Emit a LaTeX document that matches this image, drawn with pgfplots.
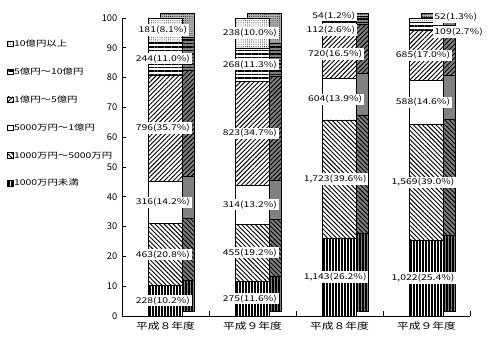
\documentclass[border=0pt]{standalone}
\usepackage{fontspec}
\setmainfont{Noto Sans CJK JP}
\newfontfamily\wide[FakeStretch=1.3]{Noto Sans CJK JP}
\usepackage{pgfplots}
\pgfplotsset{compat=1.18}
\usepackage{pgfplotstable}
\usetikzlibrary{patterns,patterns.meta}

\pgfplotstableread{
x s1 s2 s3 s4 s5 s6
0 10.2 20.8 14.2 35.7 11.0 8.1
1 11.6 19.2 13.2 34.7 11.3 10.0
2 26.2 39.6 13.9 16.5 2.6 1.2
3 25.4 39.0 14.6 17.0 2.7 1.3
}\datatable

\tikzset{
 pa/.style={pattern={Lines[angle=90,distance=2.25pt,line width=1.1pt]}},
 pb/.style={pattern={Lines[angle=-45,distance=2.4pt,line width=0.7pt]}},
 pd/.style={pattern={Lines[angle=45,distance=2.4pt,line width=0.7pt]}},
 pe/.style={pattern={Lines[angle=0,distance=2.6pt,line width=1.1pt]}},
 pf/.style={pattern={Dots[distance=1.6pt,radius=0.35pt]}},
 lbl/.style={fill=white,inner sep=1.2pt,font=\wide\fontsize{6}{7}\selectfont},
}

\pgfplotsset{
 common/.style={
  width=261pt,height=223.5pt,scale only axis,
  xmin=-0.5,xmax=3.5,ymin=0,ymax=100,
 },
}

\begin{document}
\begin{tikzpicture}
\useasboundingbox (0,0) rectangle (366pt,258.75pt);
% back copy (depth faces)
\begin{axis}[common,ybar stacked,bar width=25.5pt,hide axis,at={(100.5pt,25.5pt)},anchor=south west,clip=false]
\addplot[draw=black,line width=0.3pt,fill=gray,postaction={pa}] table[x=x,y=s1]{\datatable};
\addplot[draw=black,line width=0.3pt,fill=gray,postaction={pb}] table[x=x,y=s2]{\datatable};
\addplot[draw=black,line width=0.3pt,fill=gray] table[x=x,y=s3]{\datatable};
\addplot[draw=black,line width=0.3pt,fill=gray,postaction={pd}] table[x=x,y=s4]{\datatable};
\addplot[draw=black,line width=0.3pt,fill=gray,postaction={pe}] table[x=x,y=s5]{\datatable};
\addplot[draw=black,line width=0.3pt,fill=gray!60,postaction={pf}] table[x=x,y=s6]{\datatable};
\end{axis}
% front faces
\begin{axis}[common,ybar stacked,bar width=25.5pt,at={(91.5pt,21.75pt)},anchor=south west,clip=false,
 axis lines=left,axis line style={-,line width=0.6pt},
 xtick={0,1,2,3},
 xticklabels={平成８年度,平成９年度,平成８年度,平成９年度},
 major x tick style={draw=none},
 minor xtick={0.5,1.5,2.5,3.5},
 minor tick length=3.75pt,
 ytick={0,10,...,100},
 major tick length=3pt,
 tick align=inside,
 tick style={black,line width=0.6pt},
 /pgf/number format/assume math mode=true,
 yticklabel style={font=\fontsize{7}{8}\selectfont},
 xticklabel style={font=\wide\fontsize{6.8}{8}\selectfont,yshift=-1pt},
 reverse legend,
 legend cell align=left,
 legend style={at={(-0.33,0.93)},anchor=north west,draw=none,fill=none,
   inner sep=0pt,row sep=13.7pt,
   font=\wide\fontsize{6}{7}\selectfont,
   nodes={inner sep=0.6pt,text height=5pt,text depth=1pt}},
 legend image code/.code={\draw[#1,draw=black,line width=0.4pt] (0pt,-2pt) rectangle (4pt,2pt);},
]
\addplot[draw=black,line width=0.3pt,fill=white,postaction={pa}] table[x=x,y=s1]{\datatable};
\addplot[draw=black,line width=0.3pt,fill=white,postaction={pb}] table[x=x,y=s2]{\datatable};
\addplot[draw=black,line width=0.3pt,fill=white] table[x=x,y=s3]{\datatable};
\addplot[draw=black,line width=0.3pt,fill=white,postaction={pd}] table[x=x,y=s4]{\datatable};
\addplot[draw=black,line width=0.3pt,fill=white,postaction={pe}] table[x=x,y=s5]{\datatable};
\addplot[draw=black,line width=0.3pt,fill=white,postaction={pf}] table[x=x,y=s6]{\datatable};
\legend{1000万円未満,1000万円～5000万円,5000万円～1億円,1億円～5億円,5億円～10億円,10億円以上}
\end{axis}
% labels on top
\begin{axis}[common,hide axis,at={(91.5pt,21.75pt)},anchor=south west,clip=false]
\node[lbl] at (axis cs:-0.03,5.1) {228(10.2\%)};
\node[lbl] at (axis cs:-0.03,20.6) {463(20.8\%)};
\node[lbl] at (axis cs:-0.03,38.1) {316(14.2\%)};
\node[lbl] at (axis cs:-0.03,63.05) {796(35.7\%)};
\node[lbl] at (axis cs:-0.03,86.4) {244(11.0\%)};
\node[lbl] at (axis cs:-0.03,95.95) {181(8.1\%)};
\node[lbl] at (axis cs:0.97,5.8) {275(11.6\%)};
\node[lbl] at (axis cs:0.97,21.2) {455(19.2\%)};
\node[lbl] at (axis cs:0.97,37.4) {314(13.2\%)};
\node[lbl] at (axis cs:0.97,61.35) {823(34.7\%)};
\node[lbl] at (axis cs:0.97,84.35) {268(11.3\%)};
\node[lbl] at (axis cs:0.97,95.0) {238(10.0\%)};
\node[lbl] at (axis cs:1.95,13.1) {1,143(26.2\%)};
\node[lbl] at (axis cs:1.95,46.0) {1,723(39.6\%)};
\node[lbl] at (axis cs:1.95,72.75) {604(13.9\%)};
\node[lbl] at (axis cs:1.95,87.95) {720(16.5\%)};
\node[lbl,anchor=east] at (axis cs:2.2,96.0) {112(2.6\%)};
\node[lbl,anchor=east] at (axis cs:2.2,100.8) {54(1.2\%)};
\node[lbl] at (axis cs:2.96,12.7) {1,022(25.4\%)};
\node[lbl] at (axis cs:2.96,44.9) {1,569(39.0\%)};
\node[lbl] at (axis cs:2.96,71.7) {588(14.6\%)};
\node[lbl] at (axis cs:2.96,87.5) {685(17.0\%)};
\node[lbl,anchor=west] at (axis cs:3.07,95.3) {109(2.7\%)};
\node[lbl,anchor=west] at (axis cs:3.07,100.3) {52(1.3\%)};
\end{axis}
\end{tikzpicture}
\end{document}
